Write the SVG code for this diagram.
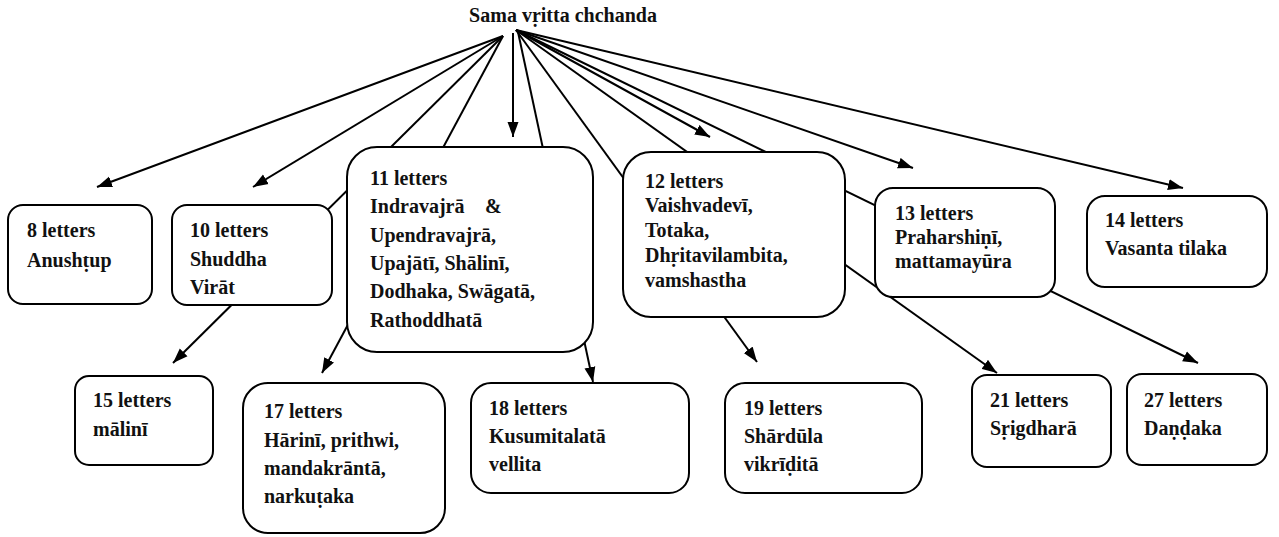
<svg xmlns="http://www.w3.org/2000/svg" width="1279" height="537" viewBox="0 0 1279 537">
<defs>
<marker id="arr" markerUnits="userSpaceOnUse" markerWidth="16" markerHeight="12" refX="15" refY="6" orient="auto">
<path d="M0,0.5 L15,6 L0,11.5 z" fill="#000"/>
</marker>
<style>
.box{fill:#fff;stroke:#000;stroke-width:2}
.t{font-family:"Liberation Serif","Times New Roman",serif;font-weight:bold;font-size:20px;fill:#111}
.c{stroke:#000;stroke-width:2;fill:none;marker-end:url(#arr)}
</style>
</defs>
<rect width="1279" height="537" fill="#fff"/>
<text class="t" x="563" y="22" text-anchor="middle" font-size="21.5">Sama vṛitta chchanda</text>
<g id="connectors">
<line class="c" x1="503" y1="36" x2="97" y2="187"/>
<line class="c" x1="503" y1="36" x2="253" y2="187"/>
<line class="c" x1="503" y1="36" x2="173" y2="363"/>
<line class="c" x1="503" y1="36" x2="322" y2="373"/>
<line class="c" x1="513" y1="33" x2="513" y2="137"/>
<line class="c" x1="518" y1="32" x2="593" y2="382"/>
<line class="c" x1="516" y1="30" x2="710" y2="137"/>
<line class="c" x1="516" y1="30" x2="757" y2="362"/>
<line class="c" x1="516" y1="30" x2="913" y2="168"/>
<line class="c" x1="516" y1="30" x2="997" y2="373"/>
<line class="c" x1="516" y1="30" x2="1198" y2="363"/>
<line class="c" x1="516" y1="30" x2="1183" y2="188"/>
</g>
<g id="n8"><rect class="box" x="8" y="205" width="144" height="99" rx="15"/>
<text class="t" x="27" y="237">8 letters<tspan x="27" y="267">Anushṭup</tspan></text></g>
<g id="n10"><rect class="box" x="172" y="205" width="160" height="100" rx="15"/>
<text class="t" x="190" y="237">10 letters<tspan x="190" y="266">Shuddha</tspan><tspan x="190" y="294">Virāt</tspan></text></g>
<g id="n11"><rect class="box" x="347" y="147" width="246" height="205" rx="30"/>
<text class="t" x="370" y="185">11 letters<tspan x="370" y="213">Indravajrā</tspan><tspan x="485" y="213">&amp;</tspan><tspan x="370" y="242">Upendravajrā,</tspan><tspan x="370" y="270">Upajātī, Shālinī,</tspan><tspan x="370" y="298">Dodhaka, Swāgatā,</tspan><tspan x="370" y="327">Rathoddhatā</tspan></text></g>
<g id="n12"><rect class="box" x="623" y="152" width="222" height="165" rx="28"/>
<text class="t" x="645" y="188">12 letters<tspan x="645" y="212">Vaishvadevī,</tspan><tspan x="645" y="237">Totaka,</tspan><tspan x="645" y="262">Dhṛitavilambita,</tspan><tspan x="645" y="287">vamshastha</tspan></text></g>
<g id="n13"><rect class="box" x="875" y="188" width="180" height="109" rx="18"/>
<text class="t" x="895" y="220">13 letters<tspan x="895" y="244">Praharshiṇī,</tspan><tspan x="895" y="268">mattamayūra</tspan></text></g>
<g id="n14"><rect class="box" x="1087" y="196" width="180" height="91" rx="18"/>
<text class="t" x="1105" y="227">14 letters<tspan x="1105" y="255">Vasanta tilaka</tspan></text></g>
<g id="n15"><rect class="box" x="75" y="376" width="138" height="89" rx="14"/>
<text class="t" x="93" y="407">15 letters<tspan x="93" y="436">mālinī</tspan></text></g>
<g id="n17"><rect class="box" x="243" y="383" width="202" height="150" rx="25"/>
<text class="t" x="264" y="418">17 letters<tspan x="264" y="447">Hārinī, prithwi,</tspan><tspan x="264" y="475">mandakrāntā,</tspan><tspan x="264" y="503">narkuṭaka</tspan></text></g>
<g id="n18"><rect class="box" x="471" y="383" width="218" height="110" rx="20"/>
<text class="t" x="489" y="415">18 letters<tspan x="489" y="443">Kusumitalatā</tspan><tspan x="489" y="471">vellita</tspan></text></g>
<g id="n19"><rect class="box" x="725" y="383" width="197" height="110" rx="20"/>
<text class="t" x="744" y="415">19 letters<tspan x="744" y="443">Shārdūla</tspan><tspan x="744" y="471">vikrīḍitā</tspan></text></g>
<g id="n21"><rect class="box" x="972" y="375" width="139" height="92" rx="15"/>
<text class="t" x="990" y="407">21 letters<tspan x="990" y="435">Sṛigdharā</tspan></text></g>
<g id="n27"><rect class="box" x="1127" y="374" width="140" height="91" rx="15"/>
<text class="t" x="1144" y="407">27 letters<tspan x="1144" y="435">Daṇḍaka</tspan></text></g>
</svg>
